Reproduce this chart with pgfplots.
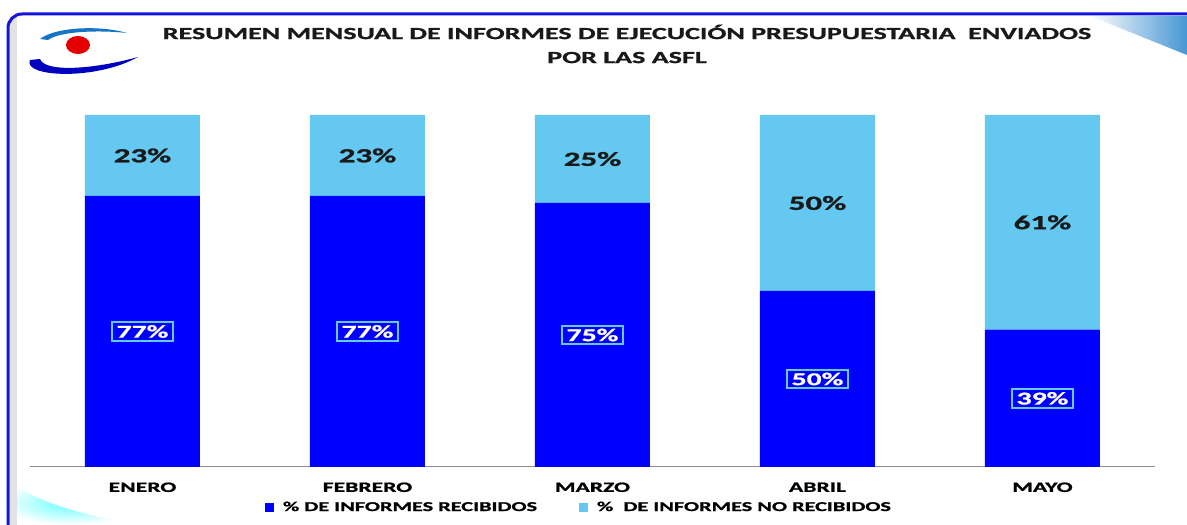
\documentclass[border=0pt]{standalone}
\usepackage{pgfplots}
\pgfplotsset{compat=1.18}
\usepackage{fontspec}
\setmainfont{Carlito}[BoldFont={Carlito Bold}, BoldFeatures={FakeStretch=1.65, FakeBold=1.2}, FakeStretch=1.65]

\definecolor{recib}{RGB}{0,0,255}
\definecolor{norecib}{RGB}{100,200,240}
\definecolor{frameblue}{RGB}{20,20,220}
\definecolor{cornerblue}{RGB}{70,150,210}

\begin{document}
\begin{tikzpicture}[x=1pt,y=1pt]
\path[use as bounding box, fill=white] (0,0) rectangle (1187,525);

% frame and decoration
\shade[left color=white, right color=cornerblue] (1090,509) -- (1187,509) -- (1187,470) -- cycle;
\shade[inner color=cyan!60, outer color=white] (0,0) -- (140,0) .. controls (80,10) and (30,25) .. (10,45) -- (0,45) -- cycle;
\fill[gray!22] (10,0) rectangle (17,508);
\draw[line width=3pt, frameblue, rounded corners=14pt] (8,0) -- (8,511) -- (1187,511);

% logo
\fill[red!90!black] (78,480) ellipse (12 and 9);
\fill[blue!75!black] (30,465) .. controls (22,448) and (95,444) .. (138,468) .. controls (95,456) and (45,452) .. (40,466) -- cycle;
\fill[cyan!55!blue] (40,486) .. controls (55,498) and (100,500) .. (127,492) .. controls (100,495) and (60,494) .. (48,485) -- cycle;

% title
\node[font=\bfseries\fontsize{17}{24}\selectfont, text=black!90, align=center] at (627,481)
  {RESUMEN MENSUAL DE INFORMES DE EJECUCIÓN PRESUPUESTARIA\ \ ENVIADOS\\POR LAS ASFL};

\begin{axis}[
    at={(30pt,58pt)}, anchor=south west,
    scale only axis,
    width=1125pt, height=352pt,
    ybar stacked,
    bar width=115pt,
    xmin=-0.5, xmax=4.5,
    ymin=0, ymax=100,
    axis x line=bottom,
    axis y line=none,
    x axis line style={black!45, line width=1pt, -},
    xtick=data,
    xticklabels={ENERO, FEBRERO, MARZO, ABRIL, MAYO},
    major tick length=0pt,
    xticklabel style={font=\bfseries\fontsize{14.3}{16}\selectfont, yshift=-12pt},
    /pgf/number format/assume math mode=true,
    point meta=rawy,
    legend style={at={(0.488,-0.114)}, anchor=center, draw=none, fill=none,
      legend columns=2, font=\bfseries\fontsize{13.5}{15}\selectfont,
      /tikz/every even column/.append style={column sep=40pt}},
    legend image code/.code={\fill[#1] (0pt,-4.5pt) rectangle (9pt,4.5pt); \path (16pt,0pt);},
  ]
\addplot+[fill=recib, draw=none,
    nodes near coords={\pgfmathprintnumber{\pgfplotspointmeta}\%},
    every node near coord/.append style={anchor=center,
      text=white, font=\bfseries\fontsize{18}{20}\selectfont,
      draw=norecib, line width=2pt, inner xsep=5pt, inner ysep=3pt}]
  coordinates {(0,77) (1,77) (2,75) (3,50) (4,39)};
\addplot+[fill=norecib, draw=none,
    nodes near coords={\pgfmathprintnumber{\pgfplotspointmeta}\%},
    every node near coord/.append style={anchor=center,
      text=black!90, font=\bfseries\fontsize{20}{22}\selectfont}]
  coordinates {(0,23) (1,23) (2,25) (3,50) (4,61)};
\legend{\% DE INFORMES RECIBIDOS, \%\ \ DE INFORMES NO RECIBIDOS}
\end{axis}
\end{tikzpicture}
\end{document}
